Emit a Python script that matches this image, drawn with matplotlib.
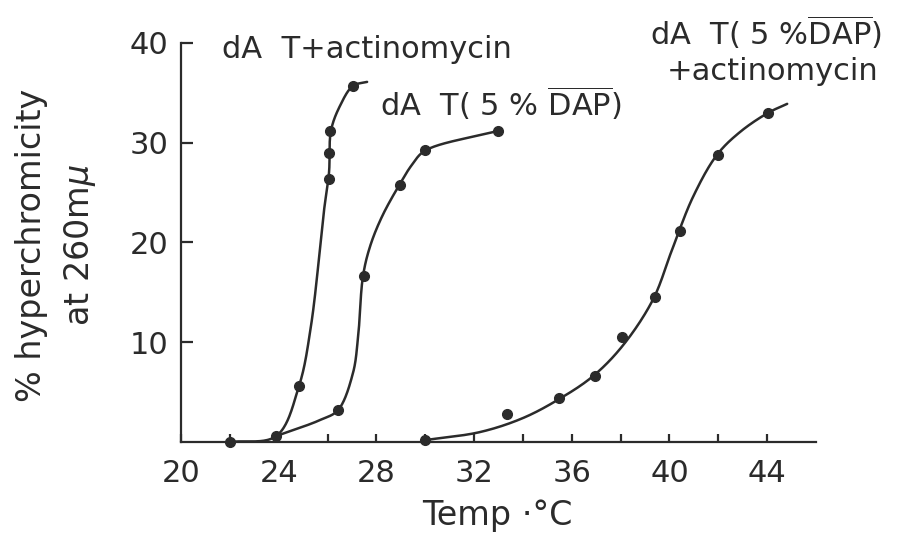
import numpy as np
import matplotlib
matplotlib.use("Agg")
import matplotlib.pyplot as plt

plt.rcParams['font.family'] = ['DejaVu Sans']
plt.rcParams['mathtext.fontset'] = 'dejavusans'

INK = '#2b2b2b'

# measured points (temperature degC, % hyperchromicity)
actino_t = [22.0, 23.9, 24.85, 26.06, 26.06, 26.1, 27.05]
actino_h = [0.0, 0.6, 5.6, 26.4, 29.0, 31.2, 35.7]

dap_t = [26.43, 27.48, 28.97, 29.99, 32.98]
dap_h = [3.2, 16.6, 25.8, 29.3, 31.2]

dap_actino_t = [30.0, 33.35, 35.48, 36.95, 38.06, 39.41, 40.44, 41.97, 44.04]
dap_actino_h = [0.2, 2.8, 4.4, 6.6, 10.5, 14.5, 21.2, 28.8, 33.0]

# hand drawn curves
actino_curve_t = [22.0, 23.9, 24.83, 25.32, 25.86, 26.06, 26.14, 26.51, 27.04, 27.62]
actino_curve_h = [0.0, 0.6, 5.6, 11.6, 23.3, 27.0, 31.2, 33.7, 35.7, 36.1]

dap_curve_t = [23.9, 25.69, 26.43, 27.04, 27.25, 27.45, 27.74, 28.23, 28.97, 29.46, 29.99, 32.98]
dap_curve_h = [0.6, 2.2, 3.2, 6.9, 10.5, 16.6, 19.6, 22.6, 25.9, 27.8, 29.2, 31.2]

dap_actino_curve_t = [30.03, 32.25, 34.0, 35.48, 36.87, 38.1, 39.33, 40.11, 40.97, 41.95, 42.9, 44.04, 44.82]
dap_actino_curve_h = [0.2, 1.0, 2.4, 4.3, 6.6, 9.7, 14.3, 19.3, 24.6, 28.8, 31.1, 33.0, 33.9]


def smooth(xs, ys, n=40, sx=24.4, sy=9.95):
    # centripetal Catmull-Rom through the traced knots
    P = np.column_stack([np.asarray(xs) * sx, np.asarray(ys) * sy])
    P = np.vstack([2 * P[0] - P[1], P, 2 * P[-1] - P[-2]])
    out = []
    for i in range(1, len(P) - 2):
        p0, p1, p2, p3 = P[i - 1:i + 3]
        t0 = 0.0
        t1 = t0 + np.linalg.norm(p1 - p0) ** 0.5
        t2 = t1 + np.linalg.norm(p2 - p1) ** 0.5
        t3 = t2 + np.linalg.norm(p3 - p2) ** 0.5
        t = np.linspace(t1, t2, n)[:, None]
        a1 = (t1 - t) / (t1 - t0) * p0 + (t - t0) / (t1 - t0) * p1
        a2 = (t2 - t) / (t2 - t1) * p1 + (t - t1) / (t2 - t1) * p2
        a3 = (t3 - t) / (t3 - t2) * p2 + (t - t2) / (t3 - t2) * p3
        b1 = (t2 - t) / (t2 - t0) * a1 + (t - t0) / (t2 - t0) * a2
        b2 = (t3 - t) / (t3 - t1) * a2 + (t - t1) / (t3 - t1) * a3
        c = (t2 - t) / (t2 - t1) * b1 + (t - t1) / (t2 - t1) * b2
        out.append(c)
    c = np.vstack(out)
    return c[:, 0] / sx, c[:, 1] / sy


W, H = 913, 538
fig = plt.figure(figsize=(W / 100, H / 100), dpi=100)
ax = fig.add_axes([181 / W, 1 - 442 / H, (816 - 181) / W, (442 - 43) / H])

for ct, ch in [(actino_curve_t, actino_curve_h),
               (dap_curve_t, dap_curve_h),
               (dap_actino_curve_t, dap_actino_curve_h)]:
    x, y = smooth(ct, ch)
    ax.plot(x, y, color=INK, lw=1.8, solid_capstyle='round', clip_on=False)

for pt, ph in [(actino_t, actino_h), (dap_t, dap_h), (dap_actino_t, dap_actino_h)]:
    ax.plot(pt, ph, 'o', color=INK, ms=7, clip_on=False, zorder=3)

ax.set_xlim(20, 46)
ax.set_ylim(0, 40)
ax.set_xticks([20, 24, 28, 32, 36, 40, 44])
ax.set_xticks([22, 26, 30, 34, 38, 42], minor=True)
ax.set_yticks([10, 20, 30, 40])
ax.set_xticklabels(['20', '24', '28', '32', '36', '40', '44'])
ax.set_yticklabels(['10', '20', '30', '40'])

for s in ['top', 'right']:
    ax.spines[s].set_visible(False)
for s in ['left', 'bottom']:
    ax.spines[s].set_color(INK)
    ax.spines[s].set_linewidth(1.6)

ax.tick_params(axis='y', direction='in', length=8.5, width=1.6, color=INK,
               labelsize=22, labelcolor=INK, pad=9)
ax.tick_params(axis='x', which='both', direction='in', length=5.5, width=1.6,
               color=INK, labelsize=22, labelcolor=INK, pad=12)

fig.text(497 / W, 1 - 515 / H, 'Temp \u00b7\u00b0C', ha='center', va='center',
         fontsize=24, color=INK)
fig.text(32 / W, 1 - 245 / H, '% hyperchromicity', rotation=90, ha='center',
         va='center', fontsize=24, color=INK)
fig.text(80 / W, 1 - 245 / H, r'at 260m$\mu$', rotation=90, ha='center',
         va='center', fontsize=24, color=INK)

fig.text(222 / W, 1 - 50 / H, 'dA  T+actinomycin', ha='left', va='center',
         fontsize=22, color=INK)
fig.text(380 / W, 1 - 103 / H, r'dA  T( 5 % $\overline{\mathrm{DAP}}$)', ha='left',
         va='center', fontsize=22, color=INK)
fig.text(650 / W, 1 - 32 / H, r'dA  T( 5 %$\overline{\mathrm{DAP}}$)', ha='left',
         va='center', fontsize=22, color=INK)
fig.text(667 / W, 1 - 72 / H, '+actinomycin', ha='left', va='center',
         fontsize=22, color=INK)

fig.savefig('out.png', dpi=100)
